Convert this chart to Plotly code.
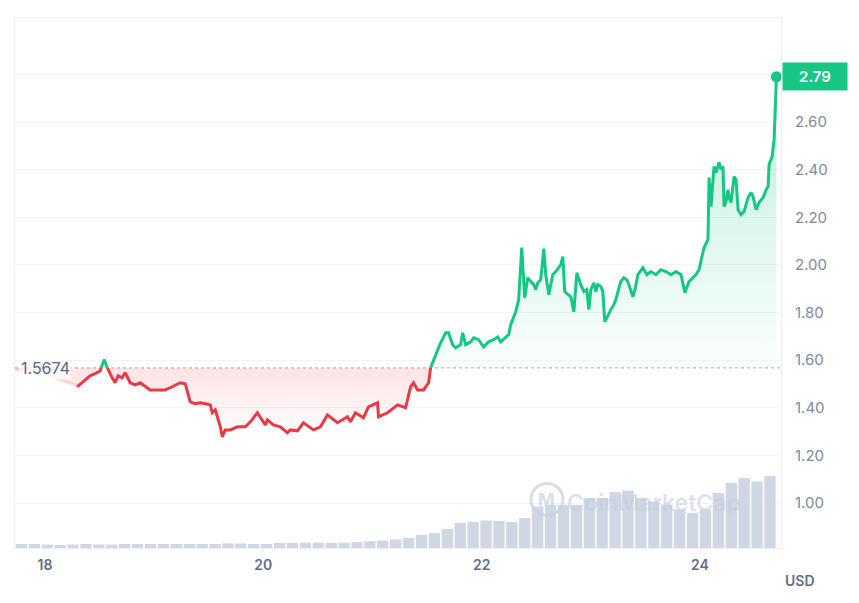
import plotly.graph_objects as go

BASE = 1.5674
LAST = 2.79

# faded lead-in segment (day of month, price USD)
pre_days = [17.725, 17.862, 18.0, 18.138, 18.275, 18.294]
pre_vals = [1.560, 1.551, 1.538, 1.518, 1.496, 1.488]

# main price series (day of month, price USD)
days = [18.294, 18.367, 18.413, 18.459, 18.505, 18.541, 18.578, 18.615, 18.642, 18.670,
        18.706, 18.734, 18.780, 18.826, 18.872, 18.917, 18.963, 19.009, 19.101, 19.147,
        19.193, 19.239, 19.284, 19.312, 19.330, 19.376, 19.422, 19.468, 19.514, 19.532,
        19.560, 19.606, 19.624, 19.651, 19.697, 19.761, 19.835, 19.881, 19.945, 20.018,
        20.037, 20.092, 20.156, 20.220, 20.248, 20.312, 20.367, 20.459, 20.523, 20.587,
        20.661, 20.679, 20.771, 20.798, 20.844, 20.917, 20.963, 21.046, 21.055, 21.138,
        21.229, 21.303, 21.349, 21.376, 21.413, 21.468, 21.514, 21.532, 21.578, 21.624,
        21.670, 21.697, 21.734, 21.761, 21.807, 21.826, 21.853, 21.899, 21.927, 21.972,
        22.018, 22.064, 22.110, 22.147, 22.174, 22.220, 22.248, 22.266, 22.294, 22.312,
        22.339, 22.367, 22.394, 22.422, 22.450, 22.477, 22.495, 22.514, 22.541, 22.569,
        22.587, 22.615, 22.651, 22.679, 22.725, 22.743, 22.761, 22.817, 22.844, 22.872,
        22.908, 22.936, 22.963, 22.982, 23.000, 23.028, 23.046, 23.064, 23.092, 23.110,
        23.128, 23.156, 23.183, 23.211, 23.229, 23.248, 23.275, 23.303, 23.330, 23.349,
        23.385, 23.404, 23.431, 23.477, 23.514, 23.550, 23.596, 23.642, 23.688, 23.734,
        23.780, 23.826, 23.862, 23.899, 23.936, 23.963, 23.991, 24.009, 24.037, 24.073,
        24.083, 24.101, 24.128, 24.147, 24.165, 24.174, 24.193, 24.211, 24.220, 24.239,
        24.257, 24.266, 24.284, 24.303, 24.312, 24.330, 24.349, 24.376, 24.404, 24.440,
        24.468, 24.486, 24.514, 24.541, 24.578, 24.606, 24.624, 24.633, 24.661, 24.679,
        24.700]
prices = [1.488, 1.518, 1.534, 1.543, 1.555, 1.602, 1.560, 1.526, 1.505, 1.534,
          1.526, 1.547, 1.505, 1.496, 1.505, 1.492, 1.475, 1.475, 1.475, 1.484,
          1.496, 1.505, 1.501, 1.454, 1.425, 1.417, 1.421, 1.417, 1.412, 1.379,
          1.391, 1.320, 1.278, 1.307, 1.307, 1.320, 1.320, 1.341, 1.379, 1.328,
          1.349, 1.328, 1.320, 1.295, 1.307, 1.303, 1.337, 1.307, 1.320, 1.370,
          1.341, 1.337, 1.362, 1.341, 1.379, 1.358, 1.404, 1.421, 1.362, 1.379,
          1.412, 1.400, 1.488, 1.505, 1.475, 1.475, 1.505, 1.568, 1.623, 1.673,
          1.715, 1.715, 1.665, 1.652, 1.665, 1.715, 1.665, 1.677, 1.694, 1.686,
          1.656, 1.677, 1.686, 1.698, 1.677, 1.694, 1.707, 1.749, 1.778, 1.803,
          1.854, 2.073, 1.862, 1.946, 1.930, 1.917, 1.896, 1.925, 1.938, 2.068,
          1.959, 1.875, 1.959, 1.972, 2.001, 2.035, 1.888, 1.866, 1.803, 1.967,
          1.917, 1.888, 1.896, 1.812, 1.896, 1.925, 1.888, 1.917, 1.909, 1.888,
          1.761, 1.791, 1.812, 1.833, 1.854, 1.888, 1.930, 1.946, 1.938, 1.917,
          1.866, 1.896, 1.959, 1.988, 1.959, 1.972, 1.959, 1.980, 1.972, 1.959,
          1.972, 1.959, 1.883, 1.930, 1.946, 1.959, 1.980, 2.014, 2.073, 2.106,
          2.367, 2.245, 2.413, 2.388, 2.413, 2.430, 2.401, 2.413, 2.245, 2.266,
          2.316, 2.283, 2.262, 2.329, 2.371, 2.358, 2.232, 2.211, 2.224, 2.283,
          2.304, 2.287, 2.232, 2.262, 2.283, 2.316, 2.329, 2.422, 2.455, 2.527,
          2.79]

# volume bars (millions USD), one per interval starting at vol_start
vol_start = 17.725
vol_step = 0.11822
volumes = [8, 8, 7, 6, 7, 8, 7, 7, 8, 8,
           8, 8, 8, 8, 8, 8, 9, 9, 8, 8,
           10, 10, 10.6, 10.6, 10, 10.6, 12, 13.4, 15, 17,
           20, 26, 30, 38, 50, 52, 55, 54, 52, 60,
           83, 86, 86, 86, 100, 100, 112, 115, 100, 93,
           87, 77, 70, 77, 110, 130, 140, 133, 144]

x_ticks = [18, 20, 22, 24]
x_labels = ["18", "20", "22", "24"]
y_ticks = [1.0, 1.2, 1.4, 1.6, 1.8, 2.0, 2.2, 2.4, 2.6, 2.8]
y_labels = ["1.00", "1.20", "1.40", "1.60", "1.80", "2.00", "2.20", "2.40", "2.60", ""]

GREEN = "#16c784"
RED = "#ea3943"


def densify(xs, ys, b):
    ox, oy = [xs[0]], [ys[0]]
    for i in range(1, len(xs)):
        x0, y0, x1, y1 = xs[i - 1], ys[i - 1], xs[i], ys[i]
        if (y0 - b) * (y1 - b) < 0:
            t = (b - y0) / (y1 - y0)
            ox.append(x0 + t * (x1 - x0))
            oy.append(b)
        ox.append(x1)
        oy.append(y1)
    return ox, oy


mx, my = densify(days, prices, BASE)
fx, fy = densify(pre_days[:-1] + days, pre_vals[:-1] + prices, BASE)

fig = go.Figure()

# volume bars
vol_x = [vol_start + (i + 0.5) * vol_step for i in range(len(volumes))]
fig.add_trace(go.Bar(x=vol_x, y=volumes, width=vol_step * 0.88,
                     marker=dict(color="#cfd6e4", line=dict(width=0)),
                     yaxis="y2", hoverinfo="skip", showlegend=False))

# green fill above baseline
fig.add_trace(go.Scatter(x=fx, y=[BASE] * len(fx), mode="lines", line=dict(width=0),
                         hoverinfo="skip", showlegend=False))
fig.add_trace(go.Scatter(x=fx, y=[max(v, BASE) for v in fy], mode="lines",
                         line=dict(width=0), fill="tonexty",
                         fillgradient=dict(type="vertical", start=BASE, stop=LAST,
                                           colorscale=[[0, "rgba(22,199,132,0.02)"],
                                                       [1, "rgba(22,199,132,0.28)"]]),
                         hoverinfo="skip", showlegend=False))
# red fill below baseline
fig.add_trace(go.Scatter(x=fx, y=[BASE] * len(fx), mode="lines", line=dict(width=0),
                         hoverinfo="skip", showlegend=False))
fig.add_trace(go.Scatter(x=fx, y=[min(v, BASE) for v in fy], mode="lines",
                         line=dict(width=0), fill="tonexty",
                         fillgradient=dict(type="vertical", start=1.28, stop=BASE,
                                           colorscale=[[0, "rgba(234,57,67,0.0)"],
                                                       [1, "rgba(234,57,67,0.14)"]]),
                         hoverinfo="skip", showlegend=False))

# faded lead-in line
fig.add_trace(go.Scatter(x=pre_days, y=pre_vals, mode="lines",
                         line=dict(color="rgba(234,57,67,0.15)", width=3),
                         hoverinfo="skip", showlegend=False))

# price line coloured by side of baseline
fig.add_trace(go.Scatter(x=mx, y=[v if v >= BASE else None for v in my], mode="lines",
                         line=dict(color=GREEN, width=3), connectgaps=False,
                         hoverinfo="skip", showlegend=False))
fig.add_trace(go.Scatter(x=mx, y=[v if v <= BASE else None for v in my], mode="lines",
                         line=dict(color=RED, width=3), connectgaps=False,
                         hoverinfo="skip", showlegend=False))

# last point marker
fig.add_trace(go.Scatter(x=[days[-1]], y=[prices[-1]], mode="markers",
                         marker=dict(color=GREEN, size=11),
                         hoverinfo="skip", showlegend=False))

fig.add_shape(type="line", xref="paper", x0=0, x1=1, yref="y", y0=BASE, y1=BASE,
              line=dict(color="#a6acbd", width=1, dash="dot"), layer="below")

# watermark logo circle
fig.add_shape(type="circle", xref="x", yref="y", xsizemode="pixel", ysizemode="pixel",
              xanchor=22.598, yanchor=1.015, x0=-16, x1=16, y0=-16, y1=16,
              line=dict(color="rgba(200,207,221,0.7)", width=3), layer="above")

fig.add_annotation(x=22.598, y=1.015, xref="x", yref="y", text="M", showarrow=False,
                   font=dict(family="Inter", size=18, color="rgba(200,207,221,0.7)", weight=700))
fig.add_annotation(x=22.76, y=1.0, xref="x", yref="y", xanchor="left", text="CoinMarketCap",
                   showarrow=False,
                   font=dict(family="Inter", size=23, color="rgba(200,207,221,0.6)", weight=600))

# current price tag
fig.add_annotation(xref="paper", x=1, xanchor="left", xshift=1, y=LAST, yref="y",
                   text="2.79", showarrow=False, bgcolor=GREEN, width=58, height=21,
                   borderpad=3, align="center",
                   font=dict(family="Inter", size=15, color="white", weight=600))

# baseline value label
fig.add_annotation(xref="paper", x=0, xanchor="left", xshift=4, y=BASE, yref="y",
                   text="1.5674", showarrow=False, bgcolor="rgba(255,255,255,0.75)",
                   font=dict(family="Inter", size=16, color="#58667e"))

fig.add_annotation(xref="paper", x=1, xanchor="left", xshift=2, yref="paper", y=-0.062,
                   yanchor="middle", text="USD", showarrow=False,
                   font=dict(family="Inter", size=14, color="#616e85", weight=600))

fig.update_layout(
    width=851, height=595,
    margin=dict(l=7, r=78, t=10, b=55),
    paper_bgcolor="white", plot_bgcolor="white",
    font=dict(family="Inter"),
    showlegend=False,
    xaxis=dict(range=[17.725, 24.742], tickvals=x_ticks, ticktext=x_labels,
               showgrid=False, zeroline=False, showline=True, linecolor="#eceff3",
               linewidth=1, mirror=True, ticks="outside", ticklen=4, tickcolor="#eceff3",
               tickfont=dict(family="Inter", size=14, color="#616e85", weight=600)),
    yaxis=dict(range=[0.811, 3.037], side="right", tickvals=y_ticks, ticktext=y_labels,
               showgrid=True, gridcolor="#f3f4f6", zeroline=False, showline=True,
               linecolor="#eceff3", mirror=True, ticks="", ticklabelstandoff=10,
               tickfont=dict(family="Inter", size=15, color="#808a9d")),
    yaxis2=dict(overlaying="y", range=[0, 1060], visible=False),
)

fig.write_html("out.html")
